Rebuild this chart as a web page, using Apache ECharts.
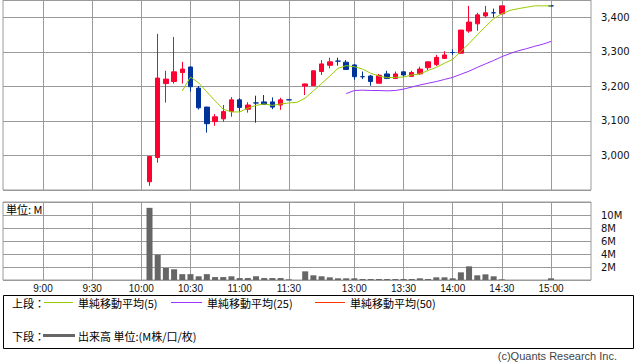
<!DOCTYPE html>
<html><head><meta charset="utf-8">
<script src="https://cdn.jsdelivr.net/npm/echarts@6/dist/echarts.min.js"></script>
<style>html,body{margin:0;padding:0;background:#fff}#c{width:638px;height:362px}</style>
</head><body><div id="c"></div>
<script>
// x positions are 5-minute slots: 9:00 = 0, 11:30 = 30, 12:30 = 32, 13:00 = 38, 15:00 = 62
const timeLabels = ['9:00','9:30','10:00','10:30','11:00','11:30','13:00','13:30','14:00','14:30','15:00'];
const timeSlots  = [0, 6, 12, 18, 24, 30, 38, 44, 50, 56, 62];
const priceTicks = [3000, 3100, 3200, 3300, 3400];

const candleSlots = [13,14,15,16,17,18,19,20,21,22,23,24,25,26,27,28,29,30,
  32,33,34,35,36,37,38,39,40,41,42,43,44,45,46,47,48,49,50,51,52,53,54,55,56,62];
const openPrices = [2924,2994,3208,3214,3240,3256,3195,3140,3098,3106,3127,3161,3134,3152,3155,3155,3146,3161,
  3201,3202,3243,3261,3273,3270,3262,3228,3230,3209,3236,3223,3242,3229,3236,3254,3263,3281,3298,3296,3360,3381,3404,3413,3410,3433];
const closePrices = [2997,3224,3221,3242,3250,3199,3138,3092,3112,3127,3161,3139,3146,3152,3148,3140,3161,3161,
  3207,3245,3265,3271,3273,3249,3228,3228,3214,3232,3223,3236,3233,3240,3250,3271,3284,3291,3298,3363,3386,3407,3413,3413,3433,3433];
const lowPrices = [2912,2979,3153,3208,3208,3185,3133,3066,3086,3098,3112,3127,3124,3095,3148,3134,3132,3161,
  3175,3202,3233,3252,3260,3249,3219,3221,3202,3209,3221,3221,3228,3229,3233,3247,3259,3279,3291,3295,3355,3361,3400,3400,3409,3433];
const highPrices = [2999,3352,3245,3343,3271,3258,3201,3141,3120,3146,3169,3166,3154,3173,3175,3168,3167,3161,
  3208,3247,3276,3283,3283,3276,3265,3243,3233,3236,3245,3243,3243,3245,3257,3272,3291,3302,3307,3363,3433,3413,3433,3425,3433,3433];
const volumesM = [11.1,3.9,1.85,1.65,0.9,0.9,0.57,0.9,0.45,0.45,0.57,0.3,0.3,0.57,0.3,0.3,0.3,0.1,
  1.33,0.72,0.57,0.41,0.26,0.26,0.26,0.15,0.15,0.15,0.15,0.15,0.15,0.15,0.26,0.15,0.41,0.41,0.26,1.18,2.1,0.72,0.87,0.57,0.1,0.26];

const ma5Slots = [17,18,19,20,21,22,23,24,25,26,27,28,29,30,31,32,33,34,35,36,37,38,39,40,41,42,43,44,45,46,47,48,49,50,51,52,53,54,55,56,57,58,59,60,61,62];
const ma5Values = [3187,3227,3210,3184,3158,3134,3126,3126,3137,3145,3149,3145,3149,3152,3154,3166,3187,3208,3230,3252,3260,3257,3250,3238,3230,3225,3226,3227,3233,3236,3246,3255,3267,3278,3301,3324,3349,3373,3396,3410,3420,3425,3429,3433,3433,3433];
const ma25Slots = [37,38,39,40,41,42,43,44,45,46,47,48,49,50,51,52,53,54,55,56,57,58,59,60,61,62];
const ma25Values = [3179,3188,3189,3188,3188,3187,3188,3192,3198,3204,3209,3214,3220,3226,3235,3244,3255,3265,3275,3286,3295,3303,3309,3316,3322,3330];

const RED = '#ff0033', BLUE = '#003399', MA5C = '#99cc00', MA25C = '#9933ff', MA50C = '#ff3300', VOLC = '#666666', GRIDC = '#9a9a9a';

const upData = [], downData = [], volData = [];
candleSlots.forEach((s, i) => {
  const item = [s, openPrices[i], closePrices[i], lowPrices[i], highPrices[i]];
  if (closePrices[i] > openPrices[i]) upData.push(item); else downData.push(item);
  volData.push([s, volumesM[i]]);
});

const chart = echarts.init(document.getElementById('c'), null, {renderer: 'svg'});
const xMin = -4.88, xMax = 66.88;
function xAxisCfg(grid, showLabel) {
  return {
    type: 'value', gridIndex: grid, min: xMin, max: xMax,
    axisLine: {show: false},
    axisTick: {show: false, customValues: timeSlots},
    axisLabel: {show: showLabel, customValues: timeSlots, margin: 3, color: '#111', fontSize: 10,
      fontFamily: 'Liberation Sans',
      formatter: v => { const k = timeSlots.indexOf(Math.round(v)); return k >= 0 ? timeLabels[k] : ''; }},
    splitLine: {show: true, lineStyle: {color: GRIDC, width: 1}}
  };
}
const font11 = '11px "Noto Sans CJK JP"';
const option = {
  animation: false,
  grid: [
    {left: 3, right: 47, top: -1, height: 191, show: true, borderColor: GRIDC, borderWidth: 1, backgroundColor: '#fff'},
    {left: 3, right: 47, top: 202, height: 78, show: true, borderColor: GRIDC, borderWidth: 1, backgroundColor: '#fff'}
  ],
  xAxis: [xAxisCfg(0, false), xAxisCfg(1, true)],
  yAxis: [
    {type: 'value', gridIndex: 0, position: 'right', min: 2900, max: 3450, interval: 100,
      axisLine: {show: false},
      axisTick: {show: true, length: 4, lineStyle: {color: GRIDC}},
      axisLabel: {margin: 10, showMinLabel: false, showMaxLabel: false, color: '#111', fontSize: 10, fontFamily: 'DejaVu Sans',
        formatter: v => priceTicks.indexOf(v) >= 0 ? v.toLocaleString('en-US') : ''},
      splitLine: {show: true, lineStyle: {color: GRIDC}}},
    {type: 'value', gridIndex: 1, position: 'right', min: 0, max: 12, interval: 2,
      axisLine: {show: false},
      axisTick: {show: true, length: 4, lineStyle: {color: GRIDC}},
      axisLabel: {margin: 10, showMinLabel: false, showMaxLabel: false, color: '#111', fontSize: 10, fontFamily: 'DejaVu Sans',
        formatter: v => v + 'M'},
      splitLine: {show: true, lineStyle: {color: GRIDC}}}
  ],
  series: [
    {name: 'up', type: 'candlestick', xAxisIndex: 0, yAxisIndex: 0, barWidth: 5, data: upData,
      itemStyle: {color: RED, color0: RED, borderColor: RED, borderColor0: RED, borderColorDoji: RED, borderWidth: 1}},
    {name: 'down', type: 'candlestick', xAxisIndex: 0, yAxisIndex: 0, barWidth: 5, data: downData,
      itemStyle: {color: BLUE, color0: BLUE, borderColor: BLUE, borderColor0: BLUE, borderColorDoji: BLUE, borderWidth: 1}},
    {name: '単純移動平均(5)', type: 'line', xAxisIndex: 0, yAxisIndex: 0, showSymbol: false, symbol: 'none',
      data: ma5Slots.map((s, i) => [s, ma5Values[i]]), lineStyle: {color: MA5C, width: 1}, z: 5},
    {name: '単純移動平均(25)', type: 'line', xAxisIndex: 0, yAxisIndex: 0, showSymbol: false, symbol: 'none',
      data: ma25Slots.map((s, i) => [s, ma25Values[i]]), lineStyle: {color: MA25C, width: 1}, z: 5},
    {name: '出来高', type: 'bar', xAxisIndex: 1, yAxisIndex: 1, barWidth: 6, data: volData,
      itemStyle: {color: VOLC}}
  ],
  graphic: [
    {type: 'text', x: 6, y: 209, style: {text: '単位: M', font: font11, fill: '#000', verticalAlign: 'middle'}},
    {type: 'rect', shape: {x: 3.5, y: 295.5, width: 630, height: 53}, style: {fill: 'none', stroke: '#000', lineWidth: 1}},
    {type: 'text', x: 12, y: 303, style: {text: '上段：', font: font11, fill: '#000', verticalAlign: 'middle'}},
    {type: 'line', shape: {x1: 44, y1: 302.5, x2: 73, y2: 302.5}, style: {stroke: MA5C, lineWidth: 1}},
    {type: 'text', x: 78, y: 303, style: {text: '単純移動平均(5)', font: font11, fill: '#000', verticalAlign: 'middle'}},
    {type: 'line', shape: {x1: 171, y1: 302.5, x2: 202, y2: 302.5}, style: {stroke: MA25C, lineWidth: 1}},
    {type: 'text', x: 207, y: 303, style: {text: '単純移動平均(25)', font: font11, fill: '#000', verticalAlign: 'middle'}},
    {type: 'line', shape: {x1: 315, y1: 302.5, x2: 345, y2: 302.5}, style: {stroke: MA50C, lineWidth: 1}},
    {type: 'text', x: 350, y: 303, style: {text: '単純移動平均(50)', font: font11, fill: '#000', verticalAlign: 'middle'}},
    {type: 'text', x: 12, y: 336, style: {text: '下段：', font: font11, fill: '#000', verticalAlign: 'middle'}},
    {type: 'line', shape: {x1: 43, y1: 335.5, x2: 75, y2: 335.5}, style: {stroke: VOLC, lineWidth: 3}},
    {type: 'text', x: 78, y: 336, style: {text: '出来高 単位:(M株/口/枚)', font: font11, fill: '#000', verticalAlign: 'middle'}},
    {type: 'text', x: 617, y: 356, style: {text: '(c)Quants Research Inc.', font: '11px "Liberation Sans"', fill: '#444', align: 'right', verticalAlign: 'middle'}}
  ]
};
chart.setOption(option);
</script></body></html>
